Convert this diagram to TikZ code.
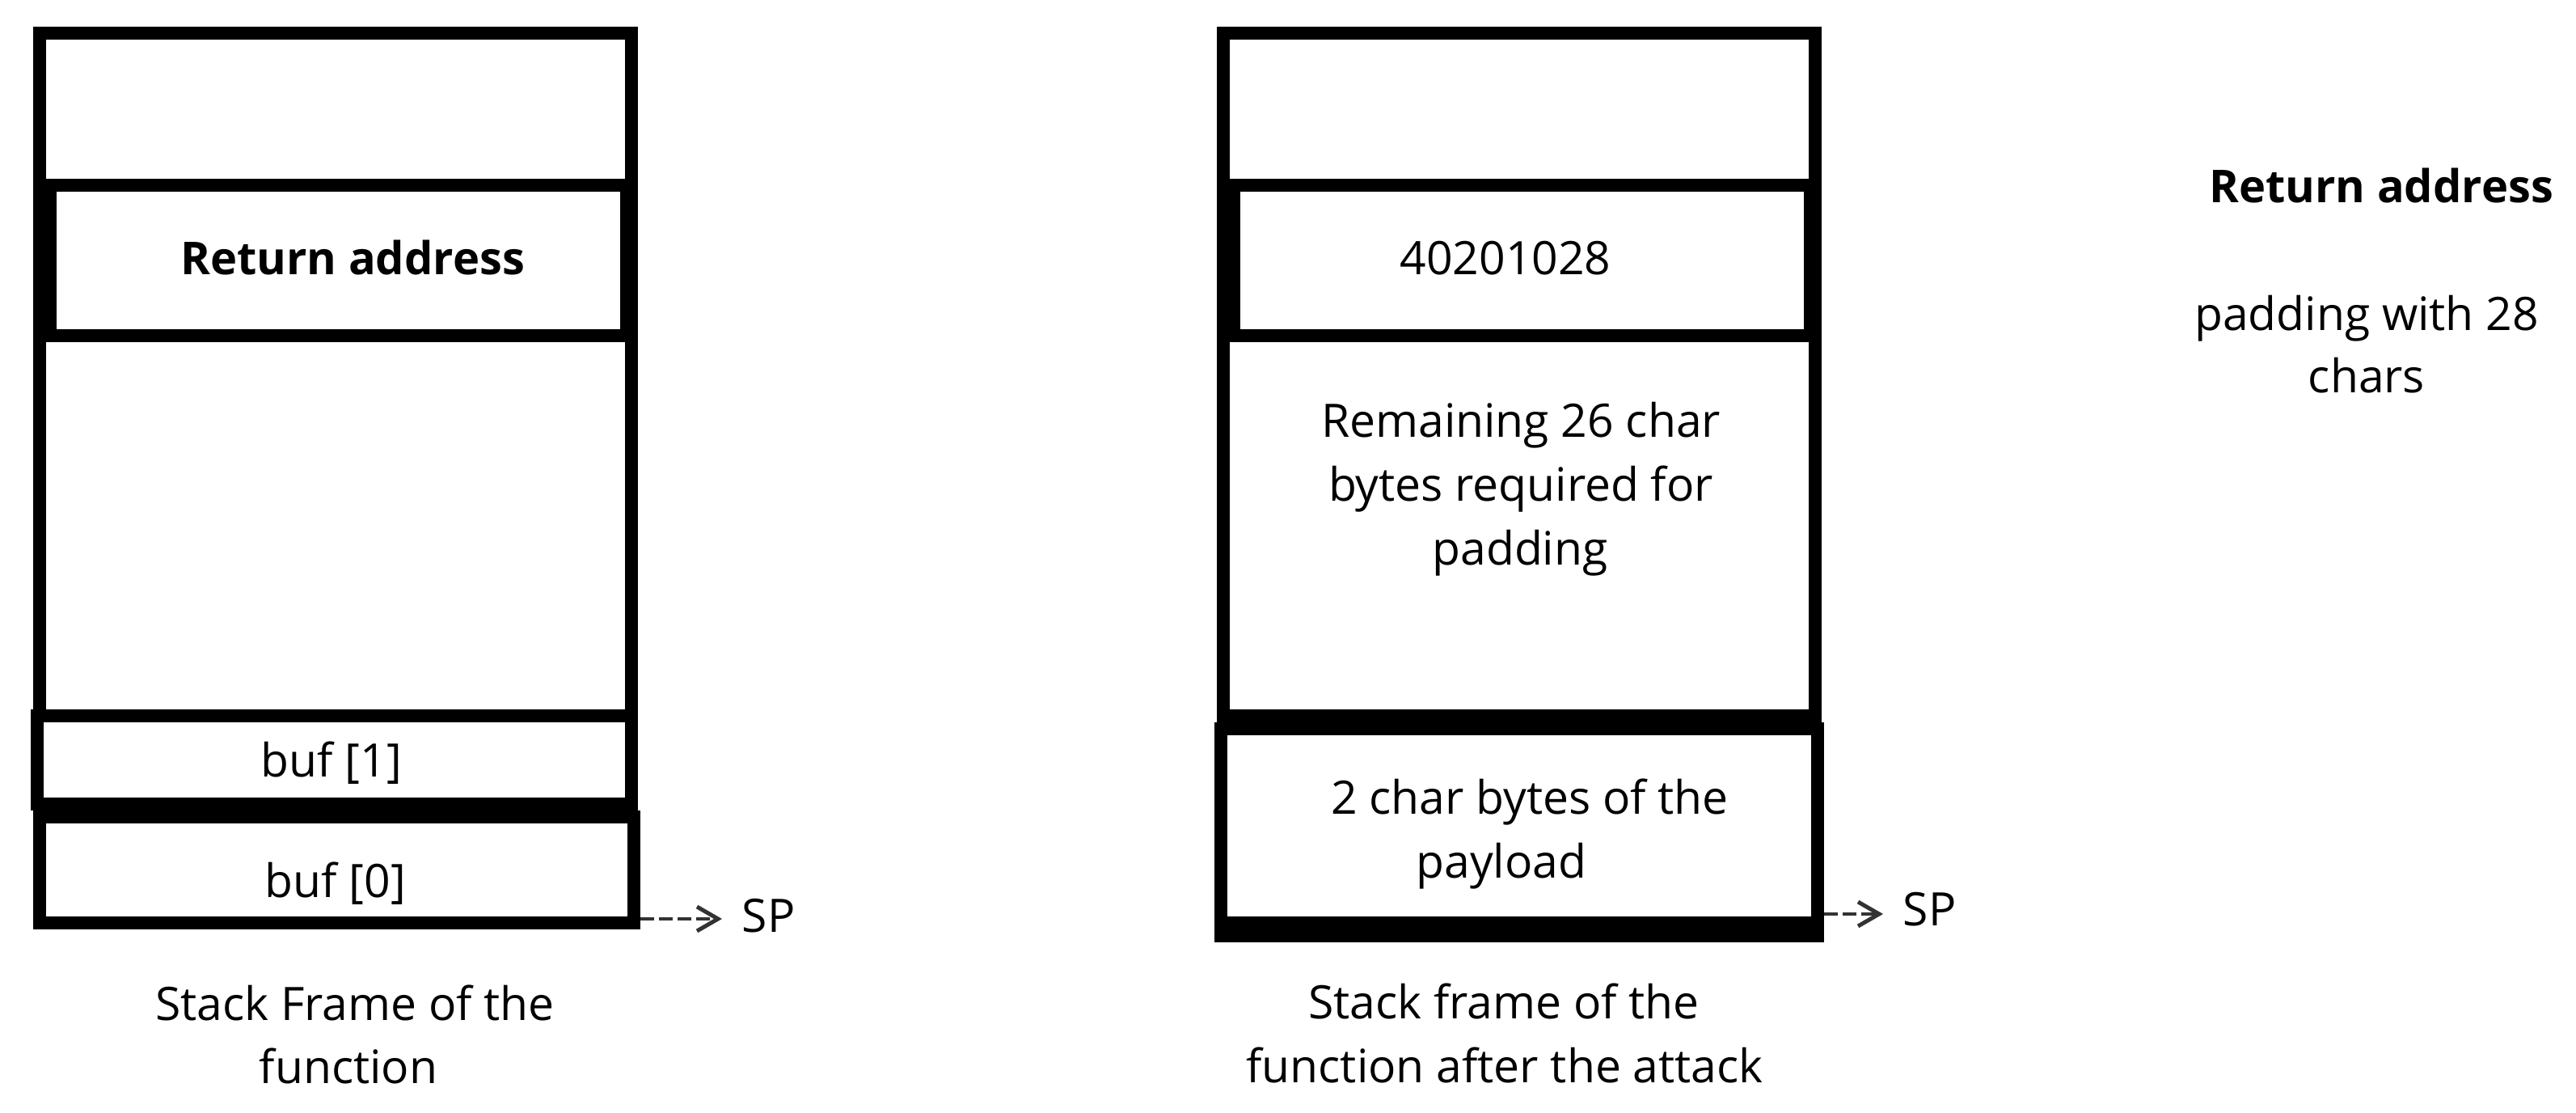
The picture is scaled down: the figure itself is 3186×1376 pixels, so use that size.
\documentclass[tikz,border=0pt]{standalone}
\usepackage{fontspec}
\setmainfont{Open Sans}
\usetikzlibrary{arrows.meta}
\begin{document}
\begin{tikzpicture}[x=0.25pt,y=-0.25pt,
  box/.style={draw=black,line width=4pt},
  barfill/.style={fill=black},
  txt/.style={inner sep=0pt,anchor=base,font=\fontsize{14.25}{19}\selectfont},
  btxt/.style={inner sep=0pt,anchor=base,font=\fontsize{14}{19}\selectfont\bfseries},
  sptxt/.style={inner sep=0pt,anchor=base west,font=\fontsize{14.25}{19}\selectfont},
  spptr/.style={draw=black!80,line width=1.2pt,dash pattern=on 4.25pt off 1.5pt,
    -{Straight Barb[length=6.5pt,width=7.5pt,line width=1.25pt]},shorten >=6pt}]
\useasboundingbox (0,0) rectangle (3186,1376);
% ---------- left stack ----------
\draw[box] (49,41) rectangle (781,229.5);
\draw[box] (49,229.5) rectangle (781,885);
\draw[box] (62,229.5) rectangle (775,415);
\draw[box] (46,885) rectangle (781,994);
\draw[box] (49,1010) rectangle (784,1141);
\coordinate (spL0) at (792,1136);
% ---------- right stack ----------
\draw[box] (1513,41) rectangle (2245,229.5);
\draw[box] (1513,229.5) rectangle (2245,885);
\draw[box] (1526,229.5) rectangle (2239,415);
\draw[box] (1510,901) rectangle (2248,1141);
\fill[barfill] (1502,1149) rectangle (2256,1165);
\coordinate (spR0) at (2256,1130);
% ---------- texts ----------
\node[btxt] (retL) at (436,340) {Return address};
\node[txt] (buf1) at (410,961) {buf [1]};
\node[txt] (buf0) at (415,1109) {buf [0]};
\node[txt] (capL1) at (439,1261) {Stack Frame of the};
\node[txt] (capL2) at (431,1339) {function};
\node[txt] (retR) at (1862,340) {40201028};
\node[txt] (rem1) at (1881,541) {Remaining 26 char};
\node[txt] (rem2) at (1881,620) {bytes required for};
\node[txt] (rem3) at (1880,699) {padding};
\node[txt] (pay1) at (1892,1007) {2 char bytes of the};
\node[txt] (pay2) at (1857,1086) {payload};
\node[txt] (capR1) at (1860,1259) {Stack frame of the};
\node[txt] (capR2) at (1861,1338) {function after the attack};
\node[btxt] (side1) at (2945,251) {Return address};
\node[txt] (side2) at (2927,409) {padding with 28};
\node[txt] (side3) at (2927,486) {chars};
% ---------- SP pointers ----------
\node[sptxt] (spL) at (917,1152) {SP};
\node[sptxt] (spR) at (2353,1145) {SP};
\draw[spptr] (spL0) -- (spL0 -| spL.west);
\draw[spptr] (spR0) -- (spR0 -| spR.west);
\end{tikzpicture}
\end{document}
